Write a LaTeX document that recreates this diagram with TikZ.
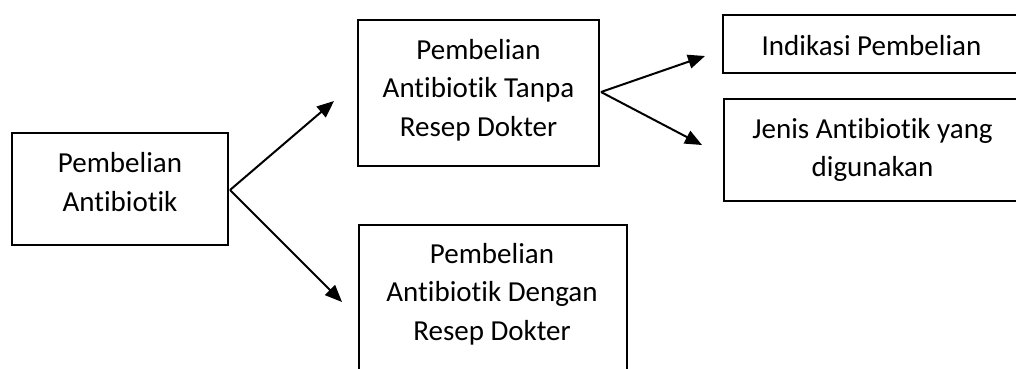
\documentclass[tikz,border=0pt]{standalone}
\usepackage{fontspec}
\setmainfont{Carlito}[Ligatures={NoCommon}]
\usetikzlibrary{arrows.meta}
\begin{document}
\begin{tikzpicture}[x=1pt,y=-1pt,
  box/.style={draw=black,line width=2pt,inner sep=0pt,anchor=north west},
  txt/.style={inner sep=0pt,align=center,font=\fontsize{29}{38.5}\selectfont},
  arr/.style={line width=2pt,-{Triangle[length=17pt,width=14pt]}}]
\useasboundingbox (0,0) rectangle (1016,368);
\node[box,minimum width=216pt,minimum height=112pt] (b1) at (11,132) {};
\node[box,minimum width=241pt,minimum height=146pt] (b2) at (357,19) {};
\node[box,minimum width=297pt,minimum height=58pt] (b3) at (722,14) {};
\node[box,minimum width=297pt,minimum height=102pt] (b4) at (723,98) {};
\node[box,minimum width=268pt,minimum height=152pt] (b5) at (358,224) {};
\node[txt] (l1) at ([yshift=7pt]b1.center) {Pembelian\\Antibiotik};
\node[txt] (l2) at ([yshift=3pt]b2.center) {Pembelian\\Antibiotik Tanpa\\Resep Dokter};
\node[txt] (l3) at ([yshift=-2pt]b3.center) {Indikasi Pembelian};
\node[txt] (l4) at (b4.center) {Jenis Antibiotik yang\\digunakan};
\node[txt] (l5) at (492,294) {Pembelian\\Antibiotik Dengan\\Resep Dokter};
\coordinate (t1) at (334,101);
\coordinate (t2) at (342,302);
\coordinate (t3) at (705,56);
\coordinate (t4) at (702,145);
\coordinate (s1) at (230,190);
\coordinate (s2) at (601,92);
\draw[arr] (s1) -- (t1);
\draw[arr] (s1) -- (t2);
\draw[arr] (s2) -- (t3);
\draw[arr] (s2) -- (t4);
\end{tikzpicture}
\end{document}
